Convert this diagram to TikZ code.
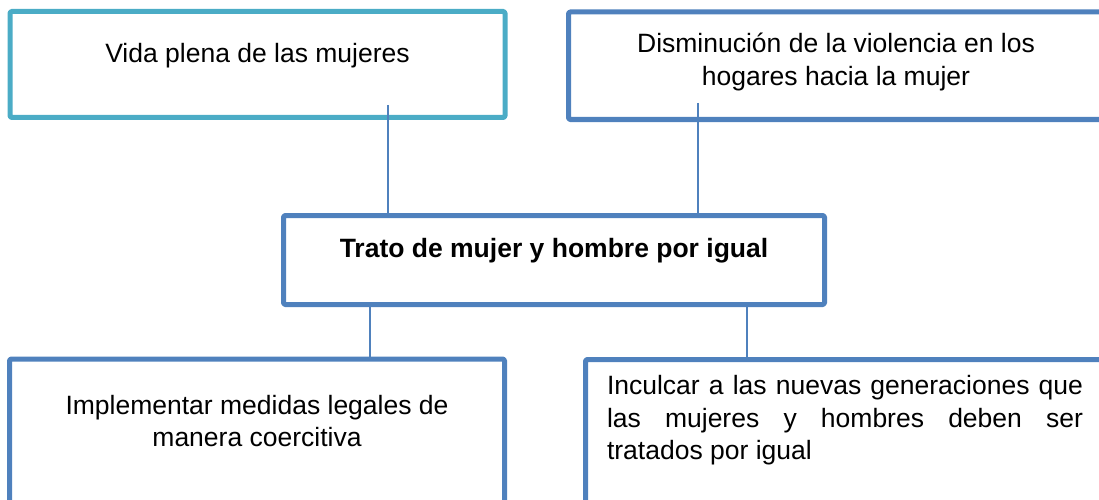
\documentclass[tikz,border=0pt]{standalone}
\usepackage{fontspec}
\setmainfont{Liberation Sans}

\begin{document}
\begin{tikzpicture}[x=1pt,y=-1pt,line cap=round,line join=round,
  box/.style={draw, line width=5pt, rounded corners=1.5pt, outer sep=0pt, inner sep=0pt},
  link/.style={draw=lineBlue, line width=2pt, line cap=butt},
  txt/.style={font=\fontsize{26.5}{32.5}\selectfont, inner sep=0pt, align=center}]

\definecolor{lineBlue}{RGB}{79,129,189}
\definecolor{lineCyan}{RGB}{75,172,198}

\useasboundingbox (0,0) rectangle (1099,500);
\clip (0,0) rectangle (1099,500);

% boxes
\node[box, draw=lineCyan, minimum width=495pt, minimum height=106pt] (vida) at (257.5,64.5) {};
\node[box, draw=lineBlue, minimum width=537.5pt, minimum height=107.5pt] (menos) at (837.25,65.75) {};
\node[box, draw=lineBlue, minimum width=541pt, minimum height=89pt] (trato) at (554,260) {};
\node[box, draw=lineBlue, minimum width=495pt, minimum height=151pt] (medidas) at (257,434.5) {};
\node[box, draw=lineBlue, minimum width=520.5pt, minimum height=150.5pt] (inculcar) at (845.75,434.75) {};

% texts
\node[txt] (vidaText) at (257.5,56) {Vida plena de las mujeres};
\node[txt] (menosText) at (836,62) {Disminución de la violencia en los\\hogares hacia la mujer};
\node[txt, font=\fontsize{26.5}{32.5}\selectfont\bfseries] (tratoText) at (554,251) {Trato de mujer y hombre por igual};
\node[txt] (medidasText) at (257,421) {Implementar medidas legales de\\manera coercitiva};
\node[txt, text width=476pt, align=justify] (inculcarText) at (845,420.5)
  {Inculcar a las nuevas generaciones que\linebreak las mujeres y hombres deben ser\linebreak tratados por igual};

% connectors
\draw[link] ([xshift=130.5pt,yshift=12.5pt]vida.south) -- ([xshift=130.5pt]vida.south |- trato.north);
\draw[link] ([xshift=-139.5pt,yshift=16.5pt]menos.south) -- ([xshift=-139.5pt]menos.south |- trato.north);
\draw[link] ([xshift=-184pt]trato.south) -- ([xshift=-184pt]trato.south |- medidas.north);
\draw[link] ([xshift=192.5pt]trato.south) -- ([xshift=192.5pt]trato.south |- inculcar.north);

\end{tikzpicture}
\end{document}
